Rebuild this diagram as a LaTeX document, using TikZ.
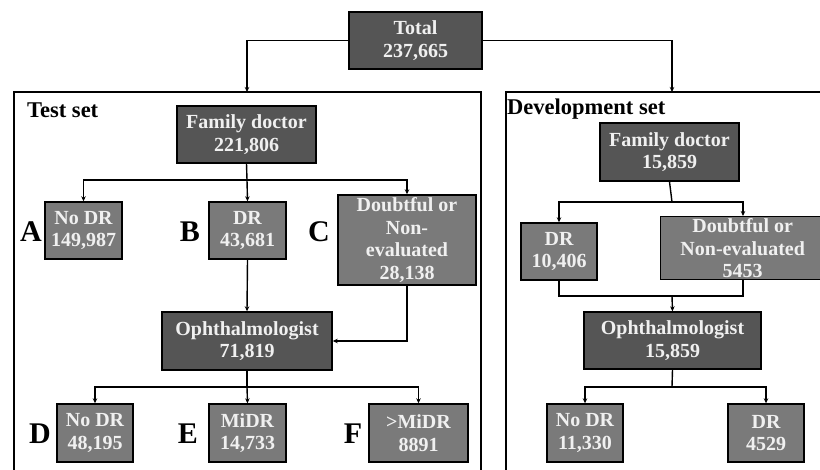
\documentclass[tikz,border=0pt]{standalone}
\usepackage{fontspec}
\setmainfont{Liberation Serif}
\usetikzlibrary{arrows.meta}
\definecolor{dkbox}{HTML}{555555}
\definecolor{ltbox}{HTML}{7A7A7A}
\definecolor{boxtxt}{HTML}{F0F0F0}
\tikzset{
  basebox/.style={draw=black, line width=1.4pt, inner sep=0pt, align=center, text=boxtxt,
    font=\bfseries\fontsize{20}{22.5}\selectfont},
  dkb/.style={basebox, fill=dkbox},
  ltb/.style={basebox, fill=ltbox},
  frame/.style={draw=black, line width=1.4pt},
  conn/.style={draw=black, line width=1.4pt},
  arr/.style={conn, -{Stealth[length=5pt,width=4.5pt]}},
  letter/.style={font=\bfseries\fontsize{30}{32}\selectfont, inner sep=0pt},
  setlabel/.style={font=\bfseries\fontsize{22.5}{24}\selectfont, inner sep=0pt, anchor=base west}
}
\begin{document}
\begin{tikzpicture}[x=1pt,y=-1pt]
\useasboundingbox (0,0) rectangle (820,470);
\clip (0,0) rectangle (820,470);
% outer set frames
\draw[frame] (14,92) rectangle (481,490);
\draw[frame] (506,92) rectangle (840,490);
\node[setlabel] (tlabel) at (27,118) {Test set};
\node[setlabel] (dlabel) at (507,115) {Development set};
\coordinate (testtop) at (247,92);
\coordinate (devtop) at (672,92);
% total
\node[dkb, minimum width=133pt, minimum height=57pt] (total) at (415.5,40.5) {Total\\237,665};
\draw[arr] (total.west) -| (testtop);
\draw[arr] (total.east) -| (devtop);

% ---- test set ----
\node[dkb, minimum width=139pt, minimum height=57pt] (tfd) at (246.5,134.5) {Family doctor\\221,806};
\node[ltb, minimum width=77pt, minimum height=57pt] (ta) at (83.5,230.5) {No DR\\149,987};
\node[ltb, minimum width=77pt, minimum height=57pt] (tb) at (247.5,230.5) {DR\\43,681};
\node[ltb, minimum width=138pt, minimum height=90pt] (tc) at (407,240) {Doubtful or\\Non-\\evaluated\\28,138};
\node[letter] (la) at (31,232) {A};
\node[letter] (lb) at (190,232) {B};
\node[letter] (lc) at (319,232) {C};
\coordinate (tsplit) at (247,180);
\draw[conn] (tfd.south) -- (tsplit);
\draw[arr] (tsplit) -| (ta.north);
\draw[arr] (tsplit) -- (tb.north);
\draw[arr] (tsplit) -| (tc.north);

\node[dkb, minimum width=170pt, minimum height=58pt] (toph) at (247,341) {Ophthalmologist\\71,819};
\draw[arr] (tb.south) -- (toph.north);
\draw[arr] (tc.south) |- (toph.east);

\node[ltb, minimum width=76pt, minimum height=58pt] (td) at (95,433) {No DR\\48,195};
\node[ltb, minimum width=77pt, minimum height=58pt] (te) at (247.5,433) {MiDR\\14,733};
\node[ltb, minimum width=99pt, minimum height=58pt] (tf) at (418.5,433) {>MiDR\\8891};
\node[letter] (ld) at (40,434) {D};
\node[letter] (le) at (188,434) {E};
\node[letter] (lf) at (353,434) {F};
\coordinate (tsplit2) at (247,387);
\draw[conn] (toph.south) -- (tsplit2);
\draw[arr] (tsplit2) -| (td.north);
\draw[arr] (tsplit2) -- (te.north);
\draw[arr] (tsplit2) -| (tf.north);

% ---- development set ----
\node[dkb, minimum width=139pt, minimum height=58pt] (dfd) at (669.5,152) {Family doctor\\15,859};
\node[ltb, minimum width=76pt, minimum height=57pt] (ddr) at (559,251.5) {DR\\10,406};
\node[ltb, minimum width=164pt, minimum height=63pt, anchor=north west] (ddb) at (660,216) {Doubtful or\\Non-evaluated\\5453};
\coordinate (dsplit) at (672,202);
\coordinate (ddbtop) at (743,216);
\draw[conn] (dfd.south) -- (dsplit);
\draw[arr] (dsplit) -| (ddr.north);
\draw[arr] (dsplit) -| (ddbtop);

\node[dkb, minimum width=177pt, minimum height=57pt] (doph) at (672.5,340.5) {Ophthalmologist\\15,859};
\coordinate (ddbbot) at (743,279);
\coordinate (dmerge) at (672,296);
\draw[conn] (ddr.south) |- (dmerge);
\draw[conn] (ddbbot) |- (dmerge);
\draw[arr] (dmerge) -- (doph.north);

\node[ltb, minimum width=76pt, minimum height=58pt] (dno) at (585,433) {No DR\\11,330};
\node[ltb, minimum width=76pt, minimum height=58pt] (ddr2) at (766,433) {DR\\4529};
\coordinate (dsplit2) at (672,387);
\draw[conn] (doph.south) -- (dsplit2);
\draw[arr] (dsplit2) -| (dno.north);
\draw[arr] (dsplit2) -| (ddr2.north);
\end{tikzpicture}
\end{document}
